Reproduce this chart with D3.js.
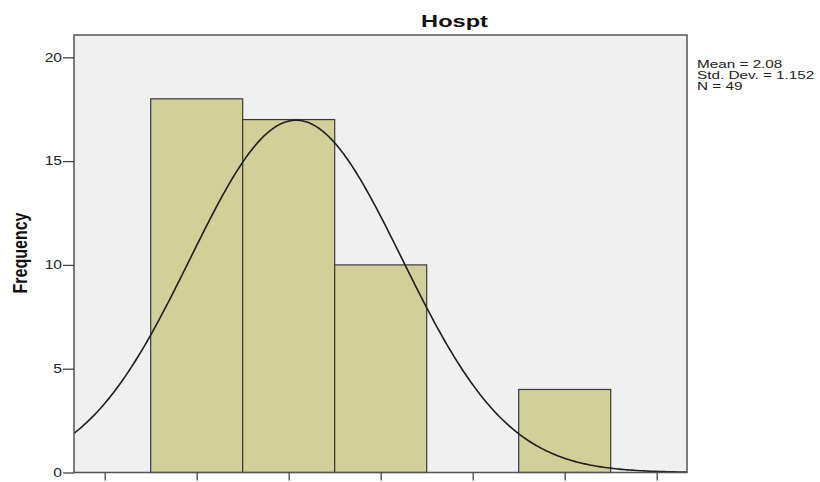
<!DOCTYPE html>
<html>
<head>
<meta charset="utf-8">
<script src="https://cdn.jsdelivr.net/npm/d3@7"></script>
<style>
body{margin:0;background:#fff}
svg{display:block}
</style>
</head>
<body>
<svg></svg>
<script>
// histogram data
var binValues = [1, 2, 3, 4, 5]
var frequencies = [18, 17, 10, 0, 4]
var yTicks = [0, 5, 10, 15, 20]
var xTicks = [0, 1, 2, 3, 4, 5, 6]
var title = "Hospt"
var statLines = ["Mean = 2.08", "Std. Dev. = 1.152", "N = 49"]
var mean = 2.08, sd = 1.152, n = 49

var screen = {width: 820, height: 482}
var box = {left: 74, right: 687, top: 35, bottom: 472.5}
var font = "Liberation Sans, Arial, sans-serif"

var svg = d3.select("svg")
    .attr("width", screen.width)
    .attr("height", screen.height)

var xScale = d3.scaleLinear()
    .domain([0, 6])
    .range([104.7, 656.7])
var yScale = d3.scaleLinear()
    .domain([0, 20])
    .range([box.bottom, 57.3])

// background of plot area
svg.append("rect")
    .attr("x", box.left)
    .attr("y", box.top)
    .attr("width", box.right - box.left)
    .attr("height", box.bottom - box.top)
    .attr("fill", "#f0f0f0")

var bins = binValues.map(function(v, i){ return {x: v, y: frequencies[i]} })
    .filter(function(d){ return d.y > 0 })

svg.selectAll("rect.bar")
    .data(bins)
    .enter()
    .append("rect")
    .attr("class", "bar")
    .attr("x", function(d){ return xScale(d.x - 0.5) })
    .attr("y", function(d){ return yScale(d.y) })
    .attr("width", function(d){ return xScale(d.x + 0.5) - xScale(d.x - 0.5) })
    .attr("height", function(d){ return yScale(0) - yScale(d.y) })
    .attr("fill", "#d2cf98")
    .attr("stroke", "#3a3a3a")
    .attr("stroke-width", 1.2)

// normal curve
var xmin = xScale.invert(box.left), xmax = xScale.invert(box.right)
var curve = d3.range(0, 301).map(function(i){
    var x = xmin + (xmax - xmin) * i / 300
    var y = n / (sd * Math.sqrt(2 * Math.PI)) * Math.exp(-0.5 * Math.pow((x - mean) / sd, 2))
    return {x: x, y: y}
})
svg.append("path")
    .datum(curve)
    .attr("d", d3.line()
        .x(function(d){ return xScale(d.x) })
        .y(function(d){ return yScale(d.y) }))
    .attr("fill", "none")
    .attr("stroke", "#1e1e1e")
    .attr("stroke-width", 1.6)

// frame
svg.append("rect")
    .attr("x", box.left)
    .attr("y", box.top)
    .attr("width", box.right - box.left)
    .attr("height", box.bottom - box.top)
    .attr("fill", "none")
    .attr("stroke", "#555")
    .attr("stroke-width", 1.5)

// y axis (labels drawn separately so they can be stretched like the picture)
var yAxis = svg.append("g")
    .attr("transform", "translate(" + box.left + ",0)")
    .call(d3.axisLeft(yScale).tickValues(yTicks).tickSize(11).tickFormat(""))
yAxis.select(".domain").remove()
yAxis.selectAll("line").attr("stroke", "#444").attr("stroke-width", 1.3)

svg.selectAll("text.ytick")
    .data(yTicks)
    .enter()
    .append("text")
    .attr("class", "ytick")
    .attr("transform", function(d){ return "translate(62," + (yScale(d) + 4.3) + ") scale(1.3,1)" })
    .attr("text-anchor", "end")
    .style("font-family", font)
    .style("font-size", "12px")
    .attr("fill", "#222")
    .text(function(d){ return d })

// x axis, ticks without labels
var xAxis = svg.append("g")
    .attr("transform", "translate(0," + box.bottom + ")")
    .call(d3.axisBottom(xScale).tickValues(xTicks).tickSize(8).tickFormat(""))
xAxis.select(".domain").remove()
xAxis.selectAll("line").attr("stroke", "#444").attr("stroke-width", 1.3)

// title
svg.append("text")
    .attr("transform", "translate(454.5,27) scale(1.43,1)")
    .attr("text-anchor", "middle")
    .style("font-family", font)
    .style("font-weight", "bold")
    .style("font-size", "16.5px")
    .attr("fill", "#111")
    .text(title)

// y label
svg.append("text")
    .attr("transform", "translate(27,253) scale(1.25,1) rotate(-90)")
    .attr("text-anchor", "middle")
    .style("font-family", font)
    .style("font-weight", "bold")
    .style("font-size", "16px")
    .attr("fill", "#111")
    .text("Frequency")

// stats
svg.selectAll("text.stat")
    .data(statLines)
    .enter()
    .append("text")
    .attr("class", "stat")
    .attr("transform", function(d, i){ return "translate(697," + (67.5 + i * 11.3) + ") scale(1.33,1)" })
    .style("font-family", font)
    .style("font-size", "11.5px")
    .attr("fill", "#222")
    .text(function(d){ return d })
</script>
</body>
</html>
